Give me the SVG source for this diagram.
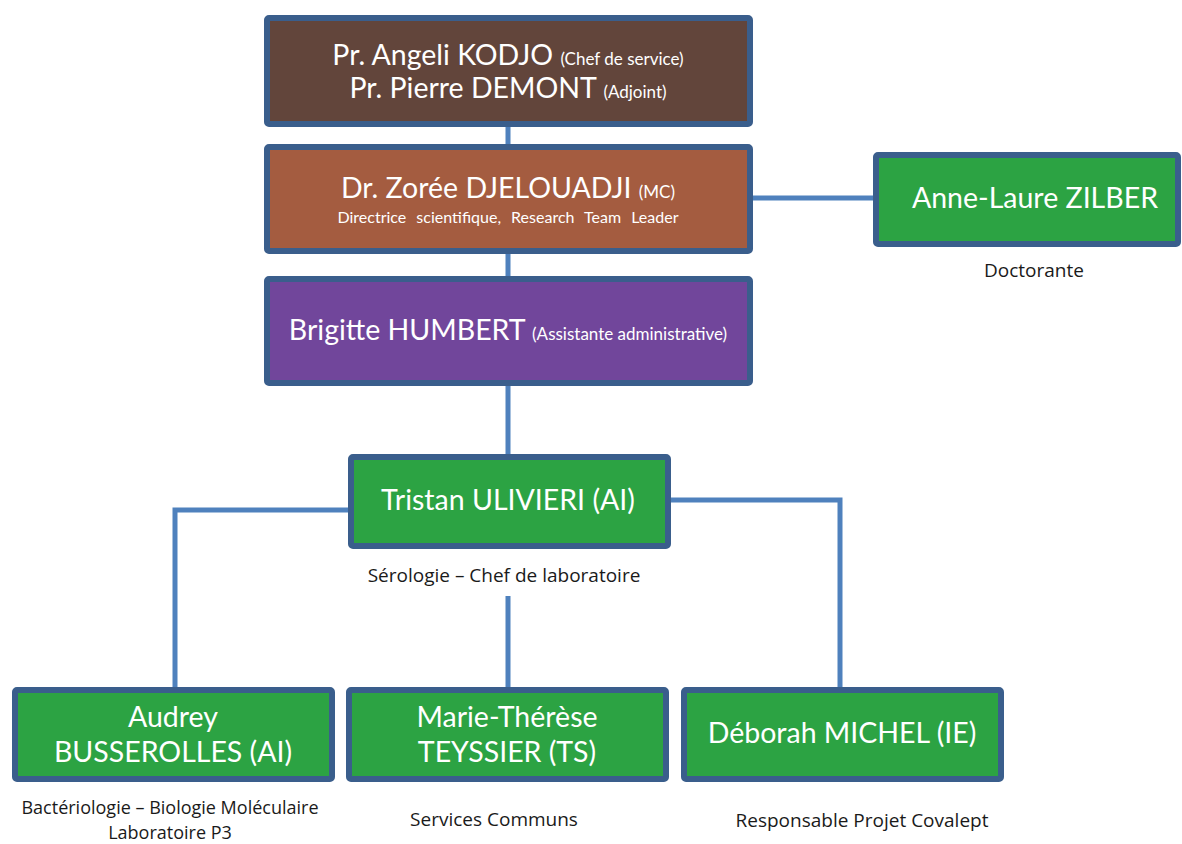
<svg xmlns="http://www.w3.org/2000/svg" width="1182" height="844" viewBox="0 0 1182 844">
<style>
.box{stroke:#3A5E8C;stroke-width:6}
.t{font-family:Lato,"Open Sans",sans-serif;fill:#fff;text-anchor:middle}
.big{font-size:28.5px}
.sm{font-size:17px}
.sm2{font-size:16px}
.lbl{font-family:"Open Sans",Lato,sans-serif;font-size:19px;fill:#1a1a1a;text-anchor:middle}
.lbl2{font-size:18px}
.c{fill:none;stroke:#4F81BD;stroke-width:5}
</style>
<rect width="1182" height="844" fill="#fff"/>
<g id="connectors">
<path class="c" d="M508 124V147M508 251V279M750 198H876M508 383V455"/>
<path class="c" d="M348 510H175V687M668 500H840V687M508 596V687"/>
</g>
<g id="n1">
<rect class="box" x="267" y="18" width="483" height="106" rx="2" fill="#62453B"/>
<text class="t" x="508" y="65"><tspan class="big">Pr. Angeli KODJO </tspan><tspan class="sm">(Chef de service)</tspan></text>
<text class="t" x="508" y="98"><tspan class="big">Pr. Pierre DEMONT </tspan><tspan class="sm">(Adjoint)</tspan></text>
</g>
<g id="n2">
<rect class="box" x="267" y="147" width="483" height="104" rx="2" fill="#A45C40"/>
<text class="t" x="508" y="198"><tspan class="big">Dr. Zorée DJELOUADJI </tspan><tspan class="sm">(MC)</tspan></text>
<text class="t sm2" x="508" y="223" word-spacing="6">Directrice scientifique, Research Team Leader</text>
</g>
<g id="n3">
<rect class="box" x="267" y="279" width="483" height="104" rx="2" fill="#71469B"/>
<text class="t" x="508" y="340"><tspan class="big">Brigitte HUMBERT </tspan><tspan class="sm">(Assistante administrative)</tspan></text>
</g>
<g id="n4">
<rect class="box" x="876" y="155" width="302" height="89" rx="2" fill="#2CA343"/>
<text class="t big" x="1035" y="208">Anne-Laure ZILBER</text>
<text class="lbl" x="1034" y="277">Doctorante</text>
</g>
<g id="n5">
<rect class="box" x="351" y="457" width="317" height="89" rx="2" fill="#2CA343"/>
<text class="t big" x="508" y="510">Tristan ULIVIERI (AI)</text>
<text class="lbl" x="504" y="582">Sérologie – Chef de laboratoire</text>
</g>
<g id="n6">
<rect class="box" x="15" y="690" width="317" height="89" rx="2" fill="#2CA343"/>
<text class="t big" x="173" y="727">Audrey</text>
<text class="t big" x="173" y="762">BUSSEROLLES (AI)</text>
<text class="lbl lbl2" x="170" y="814">Bactériologie – Biologie Moléculaire</text>
<text class="lbl lbl2" x="170" y="839">Laboratoire P3</text>
</g>
<g id="n7">
<rect class="box" x="349" y="690" width="317" height="89" rx="2" fill="#2CA343"/>
<text class="t big" x="507" y="727">Marie-Thérèse</text>
<text class="t big" x="507" y="762">TEYSSIER (TS)</text>
<text class="lbl" x="494" y="826">Services Communs</text>
</g>
<g id="n8">
<rect class="box" x="684" y="690" width="317" height="89" rx="2" fill="#2CA343"/>
<text class="t big" x="842" y="743">Déborah MICHEL (IE)</text>
<text class="lbl" x="862" y="827">Responsable Projet Covalept</text>
</g>
</svg>
